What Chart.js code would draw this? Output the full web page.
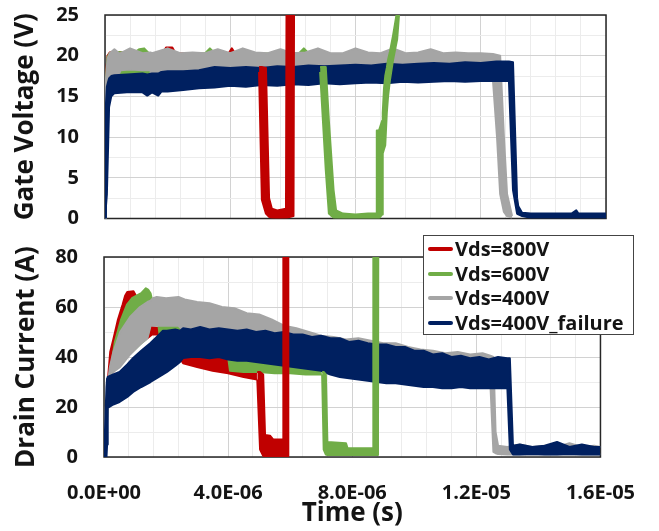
<!DOCTYPE html>
<html>
<head>
<meta charset="utf-8">
<title>Short-circuit waveforms</title>
<script src="https://cdn.jsdelivr.net/npm/chart.js@4.4.1/dist/chart.umd.min.js"></script>
<style>
  html, body { margin: 0; padding: 0; background: #fff; overflow: hidden; }
  #wrap { position: relative; width: 659px; height: 531px; }
  #gate { position: absolute; left: 0; top: 0; }
  #drain { position: absolute; left: 0; top: 232px; }
  #legend {
    position: absolute; left: 423px; top: 235px; width: 211px; height: 100px;
    box-sizing: border-box; border: 1px solid #444; background: #fff;
    padding-top: 1px; font: bold 20px 'Open Sans', sans-serif; color: #141414;
  }
  #legend .row { height: 24.5px; line-height: 24.5px; display: flex; align-items: center; white-space: nowrap; }
  #legend .swatch { display: inline-block; width: 25px; height: 4px; border-radius: 2px; margin: 0 2px 0 4px; }
</style>
</head>
<body>
<div id="wrap">
  <canvas id="gate" width="659" height="232"></canvas>
  <canvas id="drain" width="659" height="299"></canvas>
  <div id="legend"></div>
</div>
<script>
// series
const seriesLabels = ['Vds=800V', 'Vds=600V', 'Vds=400V', 'Vds=400V_failure'];
const seriesColors = ['#c00000', '#70ad47', '#a5a5a5', '#002060'];
const [RED, GREEN, GRAY, BLUE] = seriesColors;

// time in microseconds; each trace is a noisy band: low / high envelope
// ---- gate voltage (V) ----
const gateRedTime = [0, 0.03, 0.08, 0.15, 0.3, 1.0, 1.85, 1.95, 2.15, 2.25, 3.0, 3.95, 4.05, 4.15, 4.6, 4.91,
  4.92, 5.01, 5.14, 5.24, 5.33, 5.5, 5.78, 5.8, 6.02, 6.04];
const gateRedHigh = [0, 17.5, 20, 20.4, 20.5, 20.2, 20.3, 21.0, 21.0, 20.3, 20.2, 20.3, 20.9, 20.3, 20.2, 20.3,
  18.6, 18.6, 18.5, 2.5, 1.2, 1.0, 1.2, 30, 30, 30];
const gateRedLow = [0, 3, 14, 17.5, 17.5, 17.2, 17.2, 17.2, 17.2, 17.2, 17.2, 17.2, 17.2, 17.2, 17.2, 17.2,
  18.0, 2.3, 0.6, 0.2, 0.1, 0.05, 0.1, 0.1, 0.3, 30];

const gateGreenTime = [0, 0.03, 0.08, 0.15, 0.3, 0.9, 1.1, 1.25, 1.4, 2.5, 3.2, 3.35, 3.5, 4.5, 5.6, 6.2, 6.35, 6.5, 6.86,
  6.87, 7.05, 7.15, 7.3, 7.38, 7.6, 8.0, 8.4, 8.66, 8.68, 8.75, 8.85, 8.87, 8.91, 8.95, 9.0, 9.04, 9.1, 9.2, 9.33, 9.45];
const gateGreenHigh = [0, 17, 19.8, 20.3, 20.5, 20.3, 20.8, 20.9, 20.3, 20.2, 20.3, 20.9, 20.3, 20.2, 20.3, 20.3, 20.9, 20.3, 20.3,
  18.6, 18.6, 12, 3.5, 1.0, 0.6, 0.5, 0.6, 0.6, 10.8, 10.8, 12, 13, 16, 17.5, 18.5, 19.5, 20.5, 22.5, 25.5, 28];
const gateGreenLow = [0, 2, 13, 17.5, 17.5, 17.5, 17.5, 17.5, 17.5, 17.5, 17.5, 17.5, 17.5, 17.5, 17.5, 17.5, 17.5, 17.5, 17.5,
  18.0, 6, 0.6, 0.1, 0.05, 0, 0, 0, 0, 0, 0, 0.5, 8, 8.5, 9, 13, 15, 17, 19.5, 22, 28];

const gateGrayTime = [0, 0.03, 0.08, 0.15, 0.3, 0.45, 0.5, 0.8, 1.2, 1.45, 1.5, 2.0, 2.4, 2.8, 3.2, 3.6, 4.0, 4.4, 4.8, 5.2,
  5.6, 6.0, 6.4, 6.8, 7.2, 7.6, 8.0, 8.4, 8.8, 9.2, 9.6, 10.0, 10.4, 10.8, 11.2, 11.6, 12.0, 12.39, 12.52, 12.62,
  12.74, 12.84, 13.0];
const gateGrayHigh = [0, 17, 19.6, 20.3, 20.8, 20.3, 20.3, 20.9, 20.3, 20.4, 20.3, 20.9, 20.3, 20.4, 20.3, 20.8, 20.3, 20.9, 20.4, 20.3,
  20.8, 20.3, 20.4, 20.9, 20.3, 20.3, 20.9, 20.4, 20.3, 20.9, 20.3, 20.4, 20.8, 20.3, 20.4, 20.3, 20.3, 20.2, 20.1, 20.0,
  10, 3, 0.3];
const gateGrayLow = [0, 2, 10, 17.0, 17.0, 17.8, 18.2, 18.3, 18.2, 18.2, 17.0, 17.0, 17.0, 17.0, 17.0, 17.0, 17.0, 17.0, 17.0, 17.0,
  17.0, 17.0, 17.0, 17.0, 17.0, 17.0, 17.0, 17.0, 17.0, 17.0, 17.0, 17.0, 17.0, 17.0, 17.0, 17.0, 17.0, 17.0, 10, 3,
  0.8, 0.3, 0.1];

const gateBlueTime = [0, 0.03, 0.06, 0.1, 0.13, 0.2, 0.3, 0.7, 1.2, 1.35, 1.5, 1.7, 1.8, 2.0, 2.5, 3.0, 3.5, 4.0, 4.5, 5.0,
  5.5, 6.0, 6.5, 7.0, 7.5, 8.0, 8.5, 9.0, 9.5, 10.0, 10.5, 11.0, 11.5, 12.0, 12.5, 12.9, 13.03, 13.16, 13.2, 13.32,
  13.6, 14.2, 14.9, 15.05, 15.12, 15.3, 16.0];
const gateBlueHigh = [0, 14, 16.2, 16.8, 17.2, 17.5, 17.6, 17.7, 17.8, 17.7, 17.8, 17.8, 18.0, 18.1, 18.1, 18.2, 18.6, 18.5, 18.6, 18.5,
  18.7, 18.6, 18.8, 18.7, 18.8, 18.9, 18.8, 19.0, 18.9, 19.0, 19.1, 19.0, 19.2, 19.1, 19.3, 19.3, 19.2, 2.5, 1.5, 0.7,
  0.6, 0.6, 0.6, 1.0, 0.6, 0.6, 0.6];
const gateBlueLow = [0, 0, 3, 9, 13.7, 15, 15.4, 15.5, 15.5, 15.1, 15.5, 15.1, 15.6, 15.6, 15.8, 16.0, 16.1, 16.3, 16.2, 16.4,
  16.3, 16.5, 16.4, 16.6, 16.5, 16.6, 16.7, 16.6, 16.8, 16.7, 16.8, 16.9, 16.8, 16.9, 16.9, 16.9, 3.5, 0.6, 0.5, 0.3,
  0.1, 0.1, 0.1, 0.1, 0.1, 0.1, 0.1];

// ---- drain current (A) ----
const drainRedTime = [0, 0.05, 0.12, 0.2, 0.3, 0.45, 0.6, 0.68, 0.75, 0.95, 1.05, 1.2, 1.4, 1.55, 1.8, 1.9, 2.2, 2.55, 3.0, 3.5,
  4.0, 4.5, 4.93, 4.94, 5.03, 5.13, 5.19, 5.35, 5.45, 5.77, 5.78, 5.93, 5.94];
const drainRedHigh = [0, 12, 30, 42, 47, 55, 61, 64.5, 66, 66.3, 64, 60, 55, 52, 51.5, 49, 48, 46, 45, 44,
  42, 40, 38, 34, 34, 33, 8.8, 8.5, 7, 7, 95, 95, 95];
const drainRedLow = [0, 10, 22, 34, 34, 37, 39, 40, 41, 43, 44, 46, 47.5, 49, 49, 47, 44, 37.5, 36, 34.5,
  33.5, 32, 31, 31, 3, 0.5, 0.3, 0.3, 0.3, 0.3, 0.3, 0.3, 95];

const drainGreenTime = [0, 0.05, 0.12, 0.2, 0.35, 0.55, 0.74, 0.9, 1.2, 1.35, 1.42, 1.5, 1.6, 1.75, 1.8, 2.4, 2.6, 3.0, 3.5, 4.0,
  4.06, 4.5, 5.0, 5.5, 6.0, 6.5, 7.02, 7.03, 7.08, 7.15, 7.2, 7.8, 7.85, 8.67, 8.68, 8.83, 8.84];
const drainGreenHigh = [0, 8, 22, 34, 46, 55, 61, 63.5, 65.5, 67.5, 67, 65.5, 60, 56, 52, 52, 50, 49, 48, 47,
  46, 45, 44, 43, 42, 41, 40, 34, 34, 33, 6, 5.5, 3.5, 3.5, 95, 95, 95];
const drainGreenLow = [0, 3, 22, 33, 35, 38, 40.5, 42, 45.5, 47, 49, 53, 53, 53, 48, 48, 47, 46, 42, 40,
  34.5, 34, 34, 33.5, 33.5, 33, 33, 33, 3, 1, 0.8, 0.8, 0.8, 0.8, 0.8, 0.8, 95];

const drainGrayTime = [0, 0.06, 0.15, 0.19, 0.3, 0.52, 0.84, 1.16, 1.4, 1.5, 1.58, 1.7, 2.0, 2.4, 2.6, 3.0, 3.4, 3.8, 4.2, 4.6,
  5.0, 5.4, 5.8, 6.2, 6.6, 7.0, 7.4, 7.8, 8.2, 8.6, 9.0, 9.4, 9.8, 10.2, 10.6, 11.0, 11.4, 11.8, 12.2, 12.45,
  12.55, 12.62, 12.7, 13.0, 13.4, 13.8, 14.2, 14.6, 15.0, 15.4, 15.8, 16.0];
const drainGrayHigh = [0, 20, 32, 36, 42, 50, 56, 60, 62, 62.5, 63.5, 64, 63.5, 64, 63, 62, 61.5, 60, 59.5, 57.5,
  57, 55, 52.5, 51.5, 50, 48.5, 48, 47, 47.5, 46.5, 45.5, 45.5, 44, 43, 42.5, 41.5, 42, 41, 41.5, 40.5,
  40, 10, 4.5, 4, 5, 4, 4.5, 4, 5.5, 4, 4.5, 4];
const drainGrayLow = [0, 5, 25, 32, 34, 36, 41, 45, 47.5, 52.5, 52.5, 52.5, 52.5, 52.5, 50, 49, 48, 47, 46, 45,
  44.5, 44, 43, 42.5, 42, 41, 40.5, 40, 39.5, 39.5, 39, 38.5, 38, 38, 37.5, 37.5, 37, 37, 37, 30,
  2, 1.5, 1.2, 1, 1, 1, 1, 1, 1, 1, 1, 1];

const drainBlueTime = [0, 0.03, 0.08, 0.1, 0.12, 0.3, 0.5, 0.75, 0.94, 1.2, 1.5, 1.7, 1.9, 2.03, 2.3, 2.45, 2.55, 2.8, 3.1, 3.4,
  3.7, 4.0, 4.3, 4.6, 4.9, 5.2, 5.5, 5.8, 6.1, 6.4, 6.7, 7.0, 7.3, 7.6, 7.9, 8.2, 8.5, 8.8, 9.1, 9.4,
  9.7, 10.0, 10.3, 10.6, 10.9, 11.2, 11.5, 11.8, 12.1, 12.4, 12.7, 13.0, 13.08, 13.18, 13.4, 13.8, 14.2, 14.6, 15.0, 15.4,
  15.8, 16.0];
const drainBlueHigh = [0, 10, 28, 31.5, 32, 33, 34, 37, 39.6, 42.5, 45.6, 48, 50.5, 50.5, 51, 50.5, 51.5, 51, 52, 51,
  51.5, 51, 50.5, 51, 50, 50.5, 49.5, 50, 49, 49, 48, 48.5, 47.5, 47.5, 46, 46.5, 45.5, 45, 45, 44,
  44, 42.5, 42.5, 41, 41.5, 40, 40.5, 39.5, 40, 39, 40, 39.5, 39.5, 4.5, 5, 4, 4.5, 6, 4, 5,
  4, 4];
const drainBlueLow = [0, 0, 0, 5, 19.6, 21, 22, 24, 26, 28, 30, 31.5, 33, 34, 36.5, 38, 39.6, 40, 40, 39.5,
  40, 39, 38.5, 38.5, 38, 37.5, 37, 36.5, 36, 35.5, 35, 34.5, 33, 32, 31.5, 31, 30.5, 30, 29.5, 29.5,
  29, 28.5, 28, 28, 27.5, 27.5, 28, 27.5, 27.5, 27.5, 27.5, 27.5, 3, 1, 1, 1.2, 1, 1, 1.2, 1,
  1, 1];

// the switching edges of the 800V / 600V traces sit above the other traces
const GATE_RED_SPLIT = 4.92;
const GATE_GREEN_SPLIT = 6.87;
const DRAIN_RED_SPLIT = 4.94;
const DRAIN_GREEN_SPLIT = 7.03;

const GRID_MAJOR = '#d2d2d2';
const GRID_MINOR = '#ececec';
const TEXT = '#141414';

Chart.defaults.font.family = "'Open Sans', sans-serif";
Chart.defaults.font.weight = 'bold';
Chart.defaults.font.size = 20;
Chart.defaults.color = TEXT;

const tickFont = { size: 20, weight: 'bold' };
const titleFont = { size: 26, weight: 'bold' };

function isMajor(v, step) {
  return Math.abs(v / step - Math.round(v / step)) < 1e-6;
}

function sci(us) {
  const [m, e] = (us * 1e-6).toExponential(1).split('e');
  const n = parseInt(e, 10);
  return m + 'E' + (n < 0 ? '-' : '+') + String(Math.abs(n)).padStart(2, '0');
}

// high envelope fills down to the low envelope that follows it
function band(color, time, low, high, keep) {
  const hi = [], lo = [];
  time.forEach((t, i) => {
    if (!keep(t)) return;
    hi.push({ x: t, y: high[i] });
    lo.push({ x: t, y: low[i] });
  });
  const base = {
    borderColor: color, backgroundColor: color, borderWidth: 2,
    pointRadius: 0, tension: 0, borderJoinStyle: 'round'
  };
  return [
    Object.assign({}, base, { data: hi, fill: '+1' }),
    Object.assign({}, base, { data: lo, fill: false })
  ];
}

const all = () => true;

const frame = {
  id: 'frame',
  beforeDatasetsDraw(chart) {
    const { ctx, chartArea: a } = chart;
    ctx.save();
    ctx.strokeStyle = '#262626';
    ctx.lineWidth = 1.5;
    ctx.strokeRect(a.left, a.top, a.right - a.left, a.bottom - a.top);
    ctx.restore();
  }
};

function xScale(showLabels) {
  return {
    type: 'linear', min: 0, max: 16,
    border: { display: false },
    grid: { drawTicks: false, color: c => isMajor(c.tick.value, 4) ? GRID_MAJOR : GRID_MINOR },
    ticks: {
      display: showLabels, stepSize: 0.8, autoSkip: false, maxRotation: 0, padding: 24, font: tickFont,
      callback: v => isMajor(v, 4) ? sci(v) : ''
    },
    title: { display: showLabels, text: 'Time (s)', font: titleFont, padding: 0 },
    afterFit: s => { s.height = showLabels ? 72 : 0; }
  };
}

function yScale(max, step, major, text, width) {
  return {
    min: 0, max: max,
    border: { display: false },
    grid: { drawTicks: false, color: c => isMajor(c.tick.value, major) ? GRID_MAJOR : GRID_MINOR },
    ticks: { stepSize: step, autoSkip: false, padding: 26, font: tickFont,
      callback: v => isMajor(v, major) ? String(v) : '' },
    title: { display: true, text: text, font: titleFont, padding: 0 },
    // fixed width; the tick gap must not push the plot down
    afterFit: s => { s.width = width; s.paddingTop = 0; s.paddingBottom = 0; }
  };
}

function makeChart(id, datasets, x, y, padding) {
  return new Chart(document.getElementById(id), {
    type: 'line',
    data: { datasets },
    options: {
      responsive: false,
      animation: false,
      events: [],
      layout: { padding },
      plugins: { legend: { display: false }, tooltip: { enabled: false } },
      scales: { x, y }
    },
    plugins: [frame]
  });
}

makeChart('gate', [
  ...band(RED, gateRedTime, gateRedLow, gateRedHigh, t => t >= GATE_RED_SPLIT),
  ...band(GREEN, gateGreenTime, gateGreenLow, gateGreenHigh, t => t >= GATE_GREEN_SPLIT),
  ...band(BLUE, gateBlueTime, gateBlueLow, gateBlueHigh, all),
  ...band(GRAY, gateGrayTime, gateGrayLow, gateGrayHigh, all),
  ...band(GREEN, gateGreenTime, gateGreenLow, gateGreenHigh, t => t < GATE_GREEN_SPLIT),
  ...band(RED, gateRedTime, gateRedLow, gateRedHigh, t => t < GATE_RED_SPLIT)
], xScale(false), yScale(25, 2.5, 5, 'Gate Voltage (V)', 95),
  { left: 10, right: 53, top: 15, bottom: 13.5 });

makeChart('drain', [
  ...band(RED, drainRedTime, drainRedLow, drainRedHigh, t => t >= DRAIN_RED_SPLIT),
  ...band(GREEN, drainGreenTime, drainGreenLow, drainGreenHigh, t => t >= DRAIN_GREEN_SPLIT),
  ...band(BLUE, drainBlueTime, drainBlueLow, drainBlueHigh, all),
  ...band(GRAY, drainGrayTime, drainGrayLow, drainGrayHigh, all),
  ...band(GREEN, drainGreenTime, drainGreenLow, drainGreenHigh, t => t < DRAIN_GREEN_SPLIT),
  ...band(RED, drainRedTime, drainRedLow, drainRedHigh, t => t < DRAIN_RED_SPLIT)
], xScale(true), yScale(80, 10, 20, 'Drain Current (A)', 93),
  { left: 11, right: 57, top: 25, bottom: 2 });

// legend box
const legend = document.getElementById('legend');
seriesLabels.forEach((label, i) => {
  const row = document.createElement('div');
  row.className = 'row';
  const sw = document.createElement('span');
  sw.className = 'swatch';
  sw.style.background = seriesColors[i];
  row.appendChild(sw);
  row.appendChild(document.createTextNode(label));
  legend.appendChild(row);
});
</script>
</body>
</html>
